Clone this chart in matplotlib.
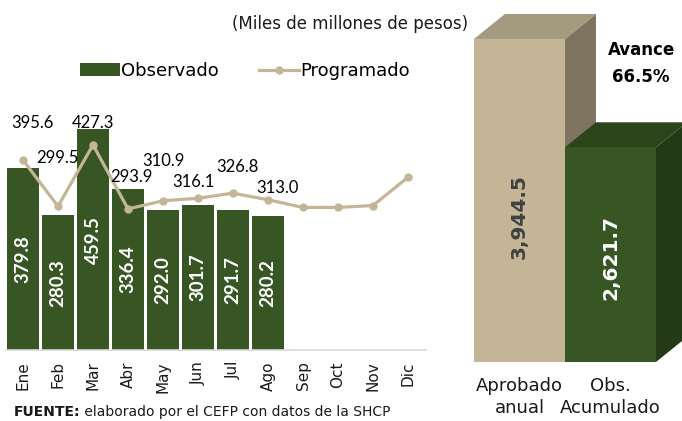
import matplotlib
matplotlib.use('Agg')
import matplotlib.pyplot as plt
from matplotlib.patches import Polygon, Rectangle
import numpy as np

# datos mensuales (miles de millones de pesos)
meses = ['Ene', 'Feb', 'Mar', 'Abr', 'May', 'Jun', 'Jul', 'Ago', 'Sep', 'Oct', 'Nov', 'Dic']
observado = [379.8, 280.3, 459.5, 336.4, 292.0, 301.7, 291.7, 280.2]
programado = [395.6, 299.5, 427.3, 293.9, 310.9, 316.1, 326.8, 313.0, 297.0, 297.0, 301.0, 360.0]
n_etiq_prog = 8  # solo ene-ago llevan etiqueta

# acumulado
resumen_cats = ['Aprobado\nanual', 'Obs.\nAcumulado']
resumen_vals = [3944.5, 2621.7]
avance = 66.5

verde = '#375623'
beige = '#c4b596'
gris_txt = '#1a1a1a'

fig = plt.figure(figsize=(6.82, 4.21), dpi=100)
W, H = 682.0, 421.0

# ---- grafica mensual
ax = fig.add_axes([5.5 / W, 71 / H, 420 / W, 240 / H])
x = np.arange(len(meses))
barras = ax.bar(x[:len(observado)], observado, width=0.92, color=verde, zorder=2, label='Observado')
linea, = ax.plot(x, programado, color=beige, lw=2.3, marker='o', ms=5, zorder=3, label='Programado')
ax.set_xlim(-0.5, 11.5)
ax.set_ylim(0, 500)
ax.set_yticks([])
for s in ['top', 'right', 'left']:
    ax.spines[s].set_visible(False)
ax.spines['bottom'].set_color('#d9d9d9')
ax.spines['bottom'].set_linewidth(1.2)
ax.set_xticks(x)
ax.set_xticklabels(meses, rotation=90, fontsize=11, color=gris_txt, family='DejaVu Sans')
ax.tick_params(axis='x', length=0, pad=8)

# etiquetas dentro de las barras
for i, v in enumerate(observado):
    ax.text(i, v / 2, '%.1f' % v, rotation=90, ha='center', va='center',
            color='white', fontsize=13.5, fontweight='bold', family='Lato')

# etiquetas de la linea (colocadas a mano como en el original)
offsets = [(9, 37), (-1, 48), (0, 22), (3, 32), (0, 40), (-5, 16), (4, 26), (9, 12)]
for i in range(n_etiq_prog):
    ax.annotate('%.1f' % programado[i], (i, programado[i]), xytext=offsets[i],
                textcoords='offset pixels', ha='center', va='center',
                fontsize=12, color='black', family='Lato')

fig.legend(handles=[barras, linea], loc='center', bbox_to_anchor=(245 / W, 1 - 71 / H),
           ncol=2, frameon=False, handlelength=2.2, handletextpad=0.1, columnspacing=2.2,
           prop={'family': 'DejaVu Sans', 'size': 13})

fig.text(468 / W, 1 - 24 / H, '(Miles de millones de pesos)', ha='right', va='center',
         fontsize=12, color=gris_txt)

# fuente
t = fig.text(14 / W, 1 - 412 / H, 'FUENTE:', fontsize=10, fontweight='bold',
             va='center', ha='left', color=gris_txt)
fig.canvas.draw()
ax.annotate(' elaborado por el CEFP con datos de la SHCP', xy=(1, 0.5), xycoords=t,
            va='center', ha='left', fontsize=10, color=gris_txt)

# ---- barras 3D del acumulado
ax2 = fig.add_axes([474 / W, (H - 362) / H, (W - 474) / W, 362 / H])
ax2.set_xlim(0, (W - 474) / 91.0)
ax2.set_ylim(0, 4420)
ax2.axis('off')
dx, dy = 0.34, 305
caras = [('#c4b596', '#a39a80', '#7f7460'), (verde, '#2b441a', '#243a17')]
for i, v in enumerate(resumen_vals):
    frente, tapa, lado = caras[i]
    ax2.add_patch(Polygon([(i + 1, 0), (i + 1 + dx, dy), (i + 1 + dx, v + dy), (i + 1, v)],
                          closed=True, fc=lado, ec='none', zorder=2 + 2 * i))
    ax2.add_patch(Polygon([(i, v), (i + dx, v + dy), (i + 1 + dx, v + dy), (i + 1, v)],
                          closed=True, fc=tapa, ec='none', zorder=2 + 2 * i))
    ax2.add_patch(Rectangle((i, 0), 1, v, fc=frente, ec='none', zorder=3 + 2 * i))
    ax2.text(i + 0.5, v * 0.45 + 100 * i, '{:,.1f}'.format(v), rotation=90, ha='center', va='center',
             fontsize=14.5, fontweight='bold', color=['#404040', 'white'][i],
             zorder=10, family='DejaVu Sans')
    ax2.text(i + 0.5, -430, resumen_cats[i], ha='center', va='center', fontsize=13,
             color=gris_txt, linespacing=1.3, clip_on=False)

fig.text(642 / W, 1 - 50 / H, 'Avance', ha='center', va='center', fontsize=12,
         fontweight='bold', color='black')
fig.text(641 / W, 1 - 77 / H, '%.1f%%' % avance, ha='center', va='center', fontsize=12,
         fontweight='bold', color='black')

fig.savefig('out.png', dpi=100)
